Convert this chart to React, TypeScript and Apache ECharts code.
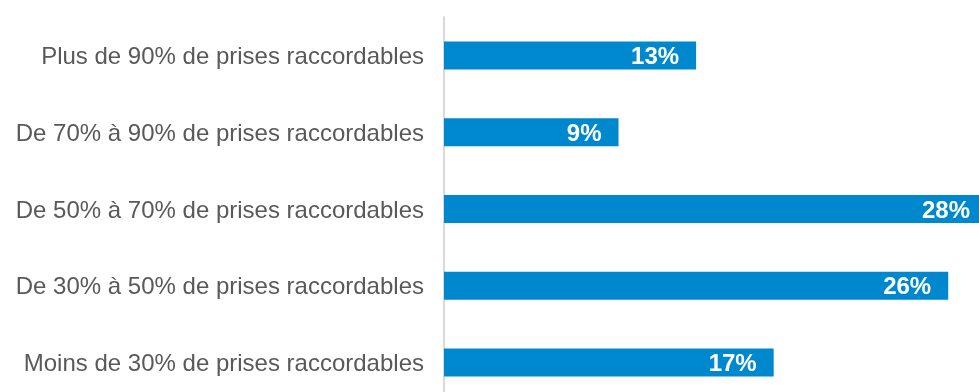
import React, { useEffect, useRef } from "react";
import * as echarts from "echarts";

const categories = [
  "Plus de 90% de prises raccordables",
  "De 70% à 90% de prises raccordables",
  "De 50% à 70% de prises raccordables",
  "De 30% à 50% de prises raccordables",
  "Moins de 30% de prises raccordables",
];
const values = [13, 9, 28, 26, 17];

export default function App() {
  const ref = useRef<HTMLDivElement>(null);
  useEffect(() => {
    if (!ref.current) return;
    const chart = echarts.init(ref.current, null, { renderer: "svg" });
    chart.setOption({
      animation: false,
      grid: { left: 444, right: 0, top: 17, bottom: 0, containLabel: false },
      xAxis: {
        type: "value",
        min: 0,
        max: 28,
        show: false,
      },
      yAxis: {
        type: "category",
        inverse: true,
        data: categories,
        axisLine: { show: true, lineStyle: { color: "#d9d9d9", width: 2 } },
        axisTick: { show: false },
        axisLabel: {
          color: "#595959",
          fontSize: 24,
          fontFamily: "Liberation Sans, Arial, sans-serif",
          margin: 20,
        },
      },
      series: [
        {
          type: "bar",
          data: values,
          barWidth: 28,
          itemStyle: { color: "#0088cf" },
          label: {
            show: true,
            position: "insideRight",
            distance: 17,
            formatter: "{c}%",
            color: "#ffffff",
            fontWeight: "bold",
            fontSize: 24,
            fontFamily: "Liberation Sans, Arial, sans-serif",
          },
        },
      ],
    });
    return () => chart.dispose();
  }, []);
  return (
    <div
      ref={ref}
      style={{ position: "fixed", left: 0, top: 0, width: 987, height: 401 }}
    />
  );
}
